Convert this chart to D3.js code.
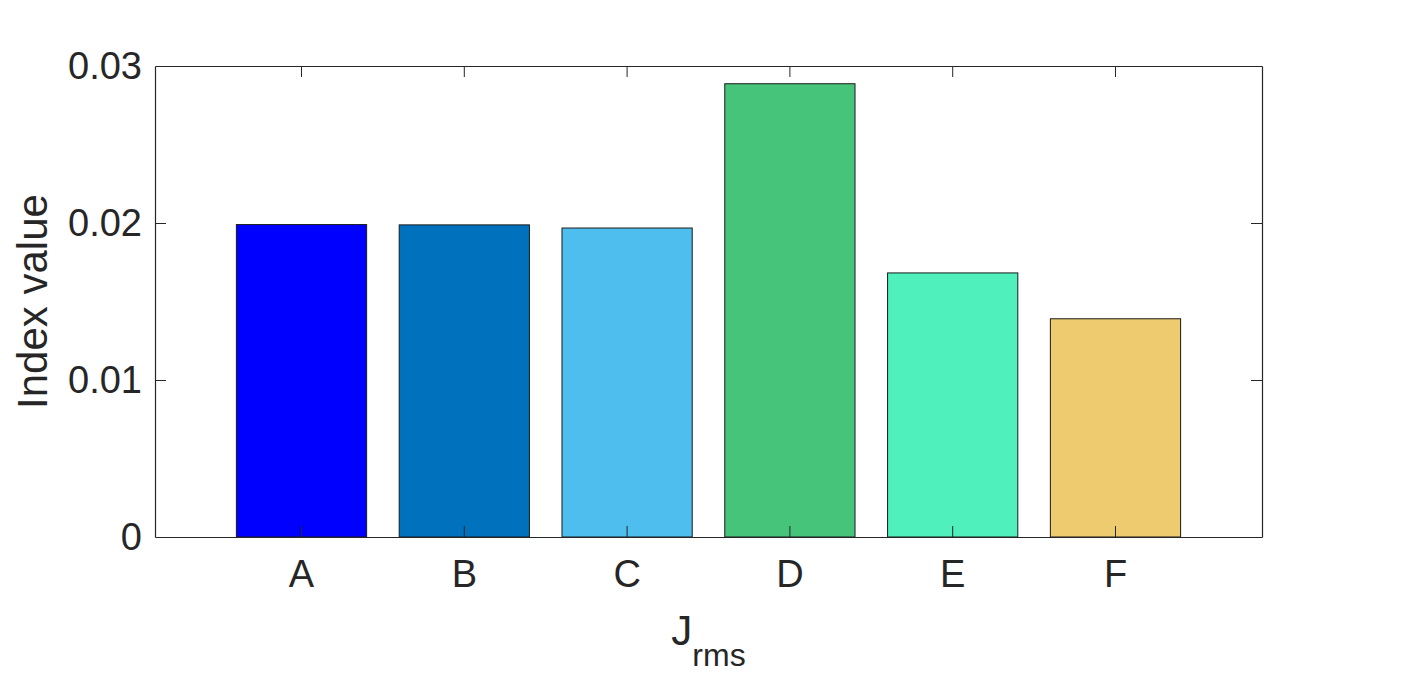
<!DOCTYPE html>
<html><head><meta charset="utf-8">
<script src="https://cdn.jsdelivr.net/npm/d3@7"></script>
<style>body{margin:0;background:#fff}svg{display:block}text{font-family:"Liberation Sans",Arial,sans-serif;fill:#262626}</style>
</head><body>
<svg id="c" width="1421" height="684"></svg>
<script>
const categories = ["A","B","C","D","E","F"];
const values = [0.01990, 0.01988, 0.01968, 0.02887, 0.01682, 0.01390];
const colors = ["#0000FF","#0072BD","#4DBEEE","#46C47A","#50F0BC","#EDCB6E"];
const yTicks = [0, 0.01, 0.02, 0.03];
const yTickLabels = ["0","0.01","0.02","0.03"];

const svg = d3.select("#c");
const L=155, R=1262, T=66, B=537;
const x = d3.scaleBand().domain(categories).range([L,R]).paddingInner(0.2).paddingOuter(0.5);
const y = d3.scaleLinear().domain([0,0.03]).range([B,T]);
const axisColor = "#262626";

// bars
svg.append("g").selectAll("rect").data(categories).join("rect")
  .attr("x", d=>x(d)).attr("width", x.bandwidth())
  .attr("y", (d,i)=>y(values[i])).attr("height", (d,i)=>y(0)-y(values[i]))
  .attr("fill", (d,i)=>colors[i]).attr("stroke", "#1a1a1a").attr("stroke-width", 1);

// axes
const fs = 38;
const gB = svg.append("g").attr("transform",`translate(0,${B})`)
  .call(d3.axisBottom(x).tickSizeInner(-11).tickSizeOuter(0).tickPadding(23));
const gT = svg.append("g").attr("transform",`translate(0,${T})`)
  .call(d3.axisTop(x).tickSizeInner(-11).tickSizeOuter(0).tickFormat(""));
const gL = svg.append("g").attr("transform",`translate(${L},0)`)
  .call(d3.axisLeft(y).tickValues(yTicks).tickFormat((d,i)=>yTickLabels[i]).tickSizeInner(-11).tickSizeOuter(0).tickPadding(13));
const gR = svg.append("g").attr("transform",`translate(${R},0)`)
  .call(d3.axisRight(y).tickValues(yTicks).tickSizeInner(-11).tickSizeOuter(0).tickFormat(""));
[gB,gT,gL,gR].forEach(g=>{
  g.select(".domain").attr("stroke", axisColor).attr("stroke-width",1.2);
  g.selectAll(".tick line").attr("stroke", axisColor).attr("stroke-width",1);
  g.selectAll("text").attr("fill", axisColor).style("font-size", fs+"px").style("font-family",'"Liberation Sans",Arial,sans-serif');
});
gB.selectAll(".tick text").attr("dy","0.71em");
gL.selectAll(".tick line").filter(d=>d===0||d===0.03).remove();
gR.selectAll(".tick line").filter(d=>d===0||d===0.03).remove();

// y label
svg.append("text").attr("transform",`translate(47,${(T+B)/2}) rotate(-90)`)
  .attr("text-anchor","middle").style("font-size","42px").text("Index value");

// x label with subscript
const xl = svg.append("text").attr("x", (L+R)/2).attr("y", 645).attr("text-anchor","middle").style("font-size","42px");
xl.append("tspan").text("J");
xl.append("tspan").attr("dy", 21).style("font-size","32px").text("rms");
</script>
</body></html>
